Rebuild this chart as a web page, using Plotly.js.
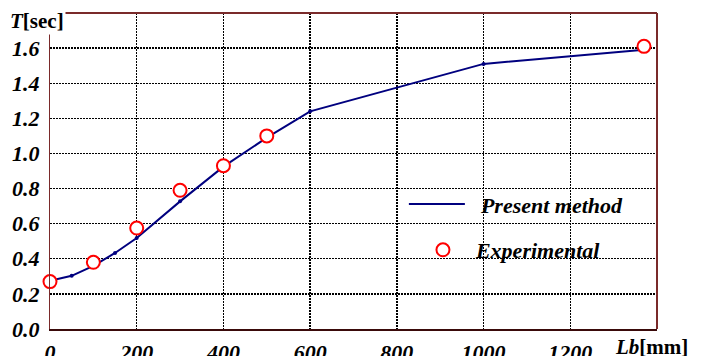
<!DOCTYPE html>
<html>
<head>
<meta charset="utf-8">
<script src="https://cdn.plot.ly/plotly-3.0.1.min.js"></script>
<style>html,body{margin:0;padding:0;background:#fff;}#chart{width:705px;height:356px;}</style>
</head>
<body>
<div id="chart"></div>
<script>
// Present method (calculated) curve
const methodLb = [0, 50, 100, 150, 200, 300, 400, 500, 600, 1000, 1370];
const methodT  = [0.274, 0.303, 0.36, 0.433, 0.518, 0.727, 0.925, 1.09, 1.24, 1.51, 1.59];
// Experimental points
const expLb = [0, 100, 200, 300, 400, 500, 1370];
const expT  = [0.27, 0.38, 0.575, 0.79, 0.93, 1.10, 1.61];
// Tick values
const xTicks = [0, 200, 400, 600, 800, 1000, 1200];
const yTicks = [0.0, 0.2, 0.4, 0.6, 0.8, 1.0, 1.2, 1.4, 1.6];

const SERIF = 'Liberation Serif';
const legFont = {family: SERIF, size: 22, color: '#000', weight: 'bold', style: 'italic'};
const navy = '#00007f';
const NB = '\u00a0';
const bi = s => '<b><i>' + s + '</i></b>';

const traces = [
  {x: methodLb, y: methodT, type: 'scatter', mode: 'lines', name: NB + NB + 'Present method',
   line: {color: navy, width: 2}, legend: 'legend', cliponaxis: false},
  {x: methodLb, y: methodT, type: 'scatter', mode: 'markers', showlegend: false,
   marker: {color: navy, size: 4}, cliponaxis: false},
  {x: expLb, y: expT, type: 'scatter', mode: 'markers', name: 'Experimental',
   marker: {symbol: 'circle', size: 13, color: '#fff', line: {color: '#ff0000', width: 2}},
   legend: 'legend2', cliponaxis: false}
];

const layout = {
  width: 705, height: 356,
  margin: {l: 50, r: 48, t: 13, b: 27},
  font: {family: SERIF, color: '#000', size: 22},
  paper_bgcolor: '#fff', plot_bgcolor: '#fff',
  showlegend: true,
  xaxis: {
    range: [0, 1400], tickmode: 'array', tickvals: xTicks, ticktext: xTicks.map(v => bi(String(v))),
    tickfont: {family: SERIF, size: 22, color: '#000'},
    ticks: '', ticklabelstandoff: 3,
    showgrid: true, gridcolor: '#000', gridwidth: 1.3, griddash: '2px,1px',
    showline: true, linecolor: '#3a0a0a', linewidth: 2, mirror: false,
    zeroline: false
  },
  yaxis: {
    range: [0, 1.8], tickmode: 'array', tickvals: yTicks, ticktext: yTicks.map(v => bi(v.toFixed(1))),
    tickfont: {family: SERIF, size: 22, color: '#000'},
    ticks: '', ticklabelstandoff: 5,
    showgrid: true, gridcolor: '#000', gridwidth: 1.3, griddash: '2px,1px',
    showline: true, linecolor: '#7a2a2a', linewidth: 1, mirror: false,
    zeroline: false
  },
  shapes: [
    {type: 'line', xref: 'paper', yref: 'paper', x0: 0, x1: 1, y0: 1, y1: 1, line: {color: '#7a2a2a', width: 2}},
    {type: 'line', xref: 'paper', yref: 'paper', x0: 1, x1: 1, y0: 0, y1: 1, line: {color: '#7a2a2a', width: 2}},
    {type: 'rect', layer: 'between', xref: 'paper', yref: 'paper', x0: 0.679, x1: 0.98, y0: 0.420, y1: 0.468, fillcolor: '#fff', line: {width: 0}},
    {type: 'rect', layer: 'between', xref: 'paper', yref: 'paper', x0: 0.700, x1: 0.919, y0: 0.193, y1: 0.300, fillcolor: '#fff', line: {width: 0}},
    {type: 'rect', layer: 'between', xref: 'paper', yref: 'paper', x0: 0.630, x1: 0.665, y0: 0.21, y1: 0.29, fillcolor: '#fff', line: {width: 0}}
  ],
  legend: {
    x: 0.583, y: 0.395, xanchor: 'left', yanchor: 'middle',
    bgcolor: 'rgba(0,0,0,0)', borderwidth: 0, itemwidth: 56, font: legFont
  },
  legend2: {
    x: 0.593, y: 0.25, xanchor: 'left', yanchor: 'middle',
    bgcolor: 'rgba(0,0,0,0)', borderwidth: 0, itemwidth: 56, font: legFont
  },
  annotations: [
    {xref: 'paper', yref: 'paper', x: -0.069, y: 0.975, xanchor: 'left', yanchor: 'middle',
     text: '<b><i>T</i>[sec]</b>', showarrow: false, bgcolor: '#fff',
     font: {family: SERIF, size: 21, color: '#000'}},
    {xref: 'paper', yref: 'paper', x: 0.9275, y: -0.057, xanchor: 'left', yanchor: 'middle',
     text: '<b><i>Lb</i>[mm]</b>', showarrow: false,
     font: {family: SERIF, size: 21, color: '#000'}}
  ]
};

Plotly.newPlot('chart', traces, layout, {staticPlot: true, displayModeBar: false});
</script>
</body>
</html>
